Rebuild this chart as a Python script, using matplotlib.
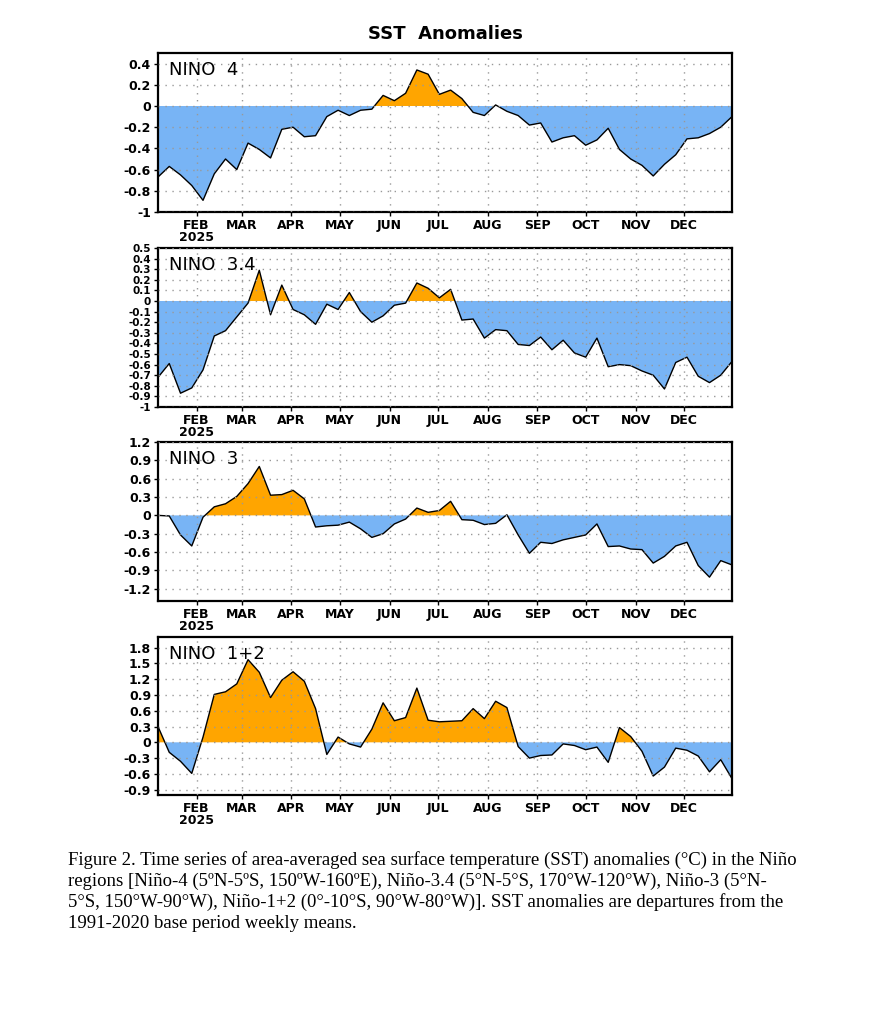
import numpy as np
import matplotlib
matplotlib.use('Agg')
import matplotlib.pyplot as plt
import matplotlib.dates as mdates

# weekly centred dates (Wednesdays), Jan 8 to Dec 31 2025
dates = np.arange(np.datetime64('2025-01-08'), np.datetime64('2026-01-01'), np.timedelta64(7, 'D'))

nino4 = [-0.67, -0.57, -0.65, -0.75, -0.89, -0.64, -0.50, -0.60, -0.35, -0.41,
         -0.49, -0.22, -0.20, -0.29, -0.28, -0.10, -0.04, -0.09, -0.04, -0.03,
         0.10, 0.05, 0.12, 0.34, 0.30, 0.11, 0.15, 0.07, -0.06, -0.09,
         0.01, -0.05, -0.09, -0.18, -0.16, -0.34, -0.30, -0.28, -0.37, -0.32,
         -0.21, -0.41, -0.50, -0.56, -0.66, -0.55, -0.46, -0.31, -0.30, -0.26,
         -0.20, -0.10]
nino34 = [-0.72, -0.59, -0.87, -0.82, -0.65, -0.33, -0.28, -0.15, -0.02, 0.29,
          -0.13, 0.15, -0.08, -0.13, -0.22, -0.03, -0.08, 0.08, -0.10, -0.20,
          -0.14, -0.04, -0.02, 0.17, 0.12, 0.03, 0.11, -0.18, -0.17, -0.35,
          -0.27, -0.28, -0.41, -0.42, -0.34, -0.46, -0.37, -0.49, -0.53, -0.35,
          -0.62, -0.60, -0.61, -0.66, -0.70, -0.83, -0.58, -0.53, -0.71, -0.77,
          -0.70, -0.57]
nino3 = [0.00, -0.01, -0.32, -0.50, -0.03, 0.14, 0.19, 0.31, 0.52, 0.80,
         0.33, 0.34, 0.41, 0.27, -0.19, -0.17, -0.16, -0.11, -0.22, -0.36,
         -0.30, -0.14, -0.06, 0.12, 0.05, 0.08, 0.23, -0.07, -0.08, -0.15,
         -0.13, 0.01, -0.32, -0.62, -0.44, -0.46, -0.40, -0.36, -0.32, -0.14,
         -0.51, -0.50, -0.55, -0.56, -0.78, -0.67, -0.50, -0.44, -0.82, -1.01,
         -0.74, -0.81]
nino12 = [0.30, -0.19, -0.36, -0.59, 0.10, 0.91, 0.96, 1.11, 1.57, 1.33,
          0.85, 1.18, 1.34, 1.16, 0.64, -0.23, 0.10, -0.03, -0.09, 0.25,
          0.75, 0.41, 0.47, 1.03, 0.42, 0.39, 0.40, 0.41, 0.64, 0.45,
          0.78, 0.66, -0.08, -0.30, -0.25, -0.24, -0.03, -0.06, -0.14, -0.09,
          -0.38, 0.28, 0.11, -0.17, -0.64, -0.47, -0.11, -0.15, -0.26, -0.56,
          -0.33, -0.69]

panel_names = ['NINO  4', 'NINO  3.4', 'NINO  3', 'NINO  1+2']
panel_data = [nino4, nino34, nino3, nino12]
panel_ylims = [(-1.0, 0.5), (-1.0, 0.5), (-1.4, 1.2), (-1.0, 2.0)]
panel_yticks = [np.arange(-1.0, 0.41, 0.2), np.arange(-1.0, 0.51, 0.1),
                np.arange(-1.2, 1.21, 0.3), np.arange(-0.9, 1.81, 0.3)]
panel_tickfont = [9, 7.5, 9, 9]
# axes boxes in pixels: (top, bottom)
panel_box = [(53, 212), (248, 407), (442, 601), (637, 795)]

month_starts = [np.datetime64('2025-%02d-01' % m) for m in range(2, 13)]
month_labels = ['FEB\n2025', 'MAR', 'APR', 'MAY', 'JUN', 'JUL', 'AUG', 'SEP', 'OCT', 'NOV', 'DEC']

caption = [
    "Figure 2. Time series of area-averaged sea surface temperature (SST) anomalies (\u00b0C) in the Ni\u00f1o",
    "regions [Ni\u00f1o-4 (5\u00baN-5\u00baS, 150\u00baW-160\u00baE), Ni\u00f1o-3.4 (5\u00b0N-5\u00b0S, 170\u00b0W-120\u00b0W), Ni\u00f1o-3 (5\u00b0N-",
    "5\u00b0S, 150\u00b0W-90\u00b0W), Ni\u00f1o-1+2 (0\u00b0-10\u00b0S, 90\u00b0W-80\u00b0W)]. SST anomalies are departures from the",
    "1991-2020 base period weekly means.",
]

ORANGE = '#ffa500'
BLUE = '#78b4f5'

W, H = 890, 1024
fig = plt.figure(figsize=(W / 100, H / 100), dpi=100)

left_px, right_px = 158, 732
x = mdates.date2num(dates.astype('datetime64[D]').astype(object))
xticks = mdates.date2num([d.astype(object) for d in month_starts])

for name, vals, ylim, yt, fs, (top, bot) in zip(panel_names, panel_data, panel_ylims,
                                                panel_yticks, panel_tickfont, panel_box):
    ax = fig.add_axes([left_px / W, 1 - bot / H, (right_px - left_px) / W, (bot - top) / H])
    v = np.array(vals)
    ax.fill_between(x, v, 0, where=v >= 0, interpolate=True, color=ORANGE, lw=0)
    ax.fill_between(x, v, 0, where=v <= 0, interpolate=True, color=BLUE, lw=0)
    ax.plot(x, v, color='black', lw=1.0)
    ax.set_xlim(x[0], x[-1])
    ax.set_ylim(*ylim)
    yt = np.round(yt, 2) + 0.0
    ax.set_yticks(yt)
    ax.set_yticklabels(['0' if abs(t) < 1e-9 else '%g' % t for t in yt],
                       fontsize=fs, fontweight='bold')
    ax.set_xticks(xticks)
    ax.set_xticklabels(month_labels, fontsize=9, fontweight='bold', linespacing=0.95)
    ax.tick_params(length=3, width=1, pad=2)
    ax.grid(True, color='#999999', linestyle=(0, (1, 4)), lw=1.0)
    ax.set_axisbelow(False)
    for s in ax.spines.values():
        s.set_linewidth(1.6)
    ax.text(0.02, 0.89, name, transform=ax.transAxes, fontsize=13, va='center', ha='left')

fig.text((left_px + right_px) / 2 / W, 1 - 34 / H, 'SST  Anomalies', fontsize=13,
         fontweight='bold', ha='center', va='center')

for i, line in enumerate(caption):
    fig.text(68 / W, 1 - (860 + 21 * i) / H, line, fontsize=13.5,
             family='Liberation Serif', ha='left', va='center')

fig.savefig('out.png', dpi=100)
